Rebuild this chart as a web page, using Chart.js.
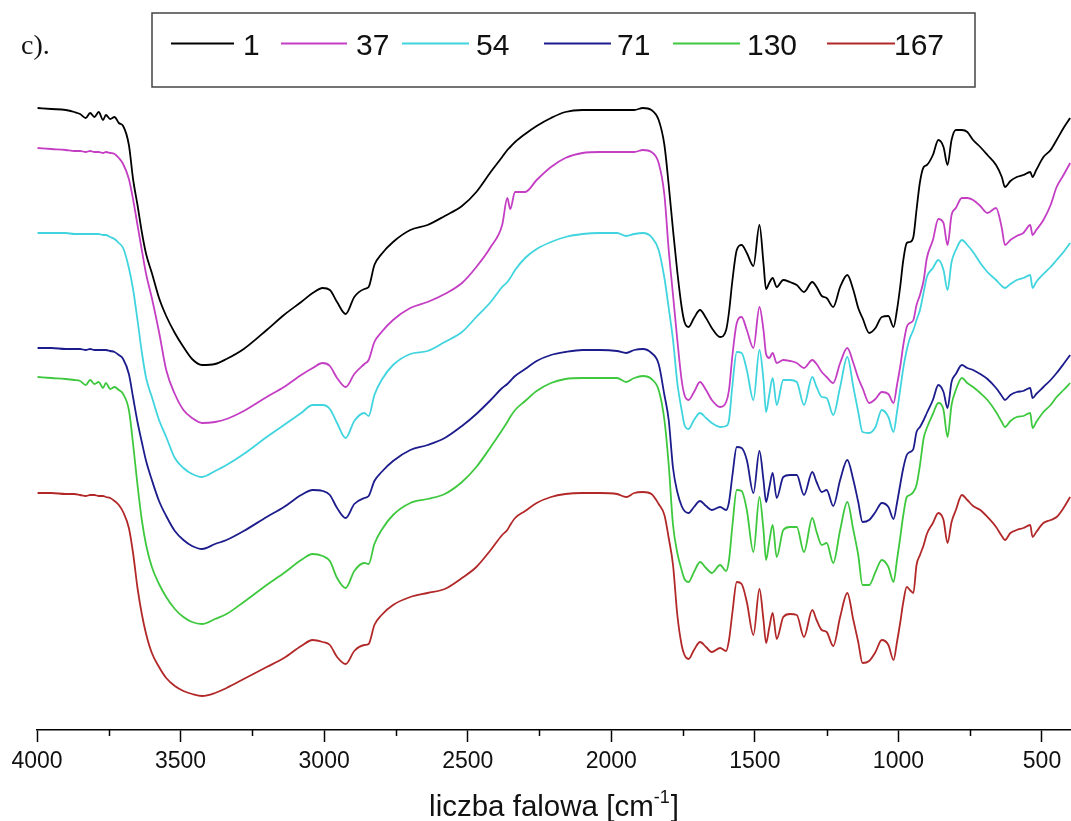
<!DOCTYPE html>
<html>
<head>
<meta charset="utf-8">
<title>Widma IR</title>
<script src="https://cdn.jsdelivr.net/npm/chart.js@4.4.1/dist/chart.umd.min.js"></script>
<style>
  html, body { margin: 0; padding: 0; background: #ffffff; }
  #wrap { width: 1071px; height: 821px; }
</style>
</head>
<body>
<div id="wrap"><canvas id="ir" width="1071" height="821"></canvas></div>
<script>
// Wavenumbers (cm-1) shared by every spectrum, from high to low
const wavenumbers = [
  3998, 3950, 3900, 3870, 3850, 3830, 3815, 3800, 3785, 3770,
  3760, 3745, 3730, 3715, 3700,
  3680, 3665, 3650,
  3635, 3620, 3600, 3575, 3550, 3520, 3490, 3460, 3425, 3380,
  3340, 3280, 3200, 3140, 3080, 3040, 3005, 2980, 2955, 2925,
  2895, 2860, 2845, 2825, 2800, 2760, 2700, 2640, 2580, 2520,
  2470, 2420, 2380, 2362, 2352, 2335, 2300, 2260, 2210, 2160,
  2100, 2040, 1980, 1948, 1920, 1890, 1860, 1835, 1815, 1800,
  1785, 1770, 1755, 1745, 1731, 1712, 1691, 1670, 1650, 1621,
  1600, 1590, 1578, 1563, 1546, 1528, 1505, 1484, 1470, 1461,
  1450, 1438, 1424, 1401, 1378, 1354, 1329, 1300, 1285, 1267,
  1250, 1227, 1203, 1178, 1157, 1140, 1125, 1102, 1080, 1058,
  1035, 1017, 1005, 994, 983, 971, 960, 948, 937, 925,
  912, 901, 880, 861, 843, 829, 815, 800, 779, 760,
  740, 715, 690, 660, 640, 629, 610, 588, 565, 541,
  533, 520, 495, 470, 449, 425, 402
];

// Offset transmittance (arbitrary units) for each sample
const spectrum1 = [
  622, 621, 620, 618, 616, 612, 617, 613, 618, 610,
  615, 611, 613, 607, 604,
  585, 550, 525,
  498, 476, 457, 432, 414, 397, 383, 371, 365, 366,
  371, 381, 400, 415, 428, 437, 442, 440, 428, 416,
  433, 441, 443, 465, 476, 488, 500, 505, 514, 524,
  538, 558, 573, 580, 583, 588, 596, 604, 612, 618,
  620, 620, 620, 620, 620, 622, 620, 610, 585, 545,
  500, 458, 423, 408, 403, 412, 420, 412, 402, 393,
  400, 418, 450, 480, 485, 477, 464, 505, 467, 441,
  447, 452, 443, 450, 448, 445, 438, 448, 443, 434,
  432, 423, 443, 455, 440, 422, 412, 397, 402, 413,
  414, 403, 420, 443, 470, 487, 488, 493, 520, 548,
  563, 565, 575, 590, 583, 565, 590, 600, 600, 598,
  590, 583, 575, 565, 553, 543, 549, 553, 555, 558,
  553, 560, 573, 580, 590, 602, 612
];
const spectrum37 = [
  582, 581, 580, 579, 579, 578, 579, 578, 578, 577,
  578, 577, 576, 572, 566,
  551, 530, 505,
  480, 456, 432, 398, 360, 336, 320, 312, 307, 308,
  311, 319, 333, 343, 355, 362, 367, 364, 352, 343,
  356, 366, 370, 388, 398, 410, 422, 428, 436, 447,
  463, 483, 505, 532, 521, 538, 538, 550, 563, 572,
  577, 578, 578, 578, 578, 580, 578, 567, 535, 480,
  435, 390, 350, 335, 330, 338, 348, 340, 330, 323,
  328, 340, 375, 407, 413, 400, 382, 423, 400, 376,
  372, 377, 367, 370, 369, 367, 362, 370, 366, 358,
  353, 347, 367, 382, 367, 352, 342, 327, 331, 338,
  336, 327, 345, 363, 385, 403, 407, 410, 425, 435,
  450, 472, 490, 511, 507, 485, 515, 522, 532, 532,
  530, 524, 517, 522, 502, 485, 490, 494, 497, 505,
  495, 500, 510, 525, 543, 555, 567
];
const spectrum54 = [
  497, 497, 497, 496, 496, 496, 496, 496, 496, 495,
  495, 493, 491, 487, 482,
  462, 440, 410,
  378, 352, 333, 310, 293, 272, 262, 256, 253, 259,
  265, 276, 293, 305, 317, 325, 325, 321, 307, 292,
  309, 317, 314, 335, 350, 365, 376, 379, 388, 398,
  413, 428, 443, 448, 452, 460, 472, 481, 488, 493,
  496, 497, 497, 494, 496, 497, 493, 480, 452, 422,
  390, 347, 320, 305, 301, 310, 317, 312, 307, 303,
  304, 310, 345, 378, 377, 360, 330, 380, 350, 318,
  335, 352, 325, 350, 350, 348, 325, 353, 343, 333,
  332, 315, 343, 373, 343, 318, 298, 297, 303, 320,
  313, 298, 318, 340, 362, 380, 392, 400, 410, 420,
  438, 453, 462, 470, 460, 440, 468, 480, 490, 485,
  478, 467, 458, 450, 444, 442, 446, 450, 452, 455,
  442, 448, 456, 463, 470, 478, 487
];
const spectrum71 = [
  382, 382, 381, 381, 381, 380, 381, 380, 380, 380,
  380, 379, 378, 375, 371,
  356, 332, 308,
  288, 269, 250, 229, 214, 199, 190, 184, 181, 186,
  190, 199, 213, 223, 235, 240, 239, 235, 222, 212,
  226, 232, 234, 249, 258, 269, 280, 285, 292, 304,
  316, 330, 342, 346, 349, 354, 361, 369, 375, 378,
  380, 380, 379, 377, 380, 381, 377, 366, 335, 310,
  262, 238, 224, 219, 217, 223, 229, 224, 220, 223,
  220, 228, 255, 283, 282, 270, 237, 279, 250, 228,
  242, 257, 232, 253, 255, 255, 235, 258, 248, 238,
  240, 224, 250, 270, 250, 228, 208, 210, 218, 227,
  223, 211, 227, 245, 262, 275, 278, 281, 298, 303,
  310, 317, 330, 345, 338, 322, 348, 356, 365, 362,
  360, 356, 351, 342, 334, 330, 335, 338, 339, 342,
  332, 336, 343, 350, 357, 366, 375
];
const spectrum130 = [
  353, 352, 351, 350, 349, 345, 350, 346, 348, 342,
  347, 341, 343, 340, 336,
  320, 285, 245,
  210, 185, 163, 146, 133, 121, 113, 108, 106, 111,
  116, 128, 145, 157, 170, 176, 174, 169, 152, 142,
  159, 167, 166, 186, 200, 215, 227, 231, 236, 248,
  263, 283, 300, 308, 313, 320, 329, 339, 347, 351,
  352, 352, 352, 348, 352, 354, 351, 340, 310, 265,
  205, 177, 160, 151, 148, 158, 168, 162, 157, 165,
  159, 170, 205, 240, 239, 220, 178, 233, 200, 170,
  188, 205, 173, 200, 203, 203, 178, 212, 198, 185,
  187, 167, 200, 228, 200, 175, 145, 145, 158, 170,
  163, 148, 170, 192, 215, 233, 235, 238, 245, 265,
  292, 302, 316, 327, 320, 293, 325, 340, 352, 347,
  343, 337, 330, 318, 308, 303, 309, 313, 314, 317,
  302, 308, 318, 325, 333, 340, 347
];
const spectrum167 = [
  237, 237, 236, 236, 235, 234, 235, 235, 234, 234,
  233, 232, 229, 225, 218,
  202, 176, 142,
  116, 96, 77, 63, 52, 44, 39, 36, 34, 37,
  42, 51, 63, 72, 84, 90, 88, 85, 73, 66,
  79, 85, 86, 105, 115, 125, 133, 137, 141, 152,
  163, 180, 195, 200, 205, 212, 219, 227, 233, 236,
  237, 237, 236, 233, 237, 238, 236, 226, 215, 192,
  165, 115, 85, 75, 71, 80, 88, 83, 78, 82,
  79, 90, 118, 148, 146, 128, 95, 141, 110, 87,
  102, 117, 91, 113, 116, 115, 93, 120, 110, 100,
  98, 84, 113, 137, 110, 88, 67, 69, 78, 90,
  85, 70, 88, 107, 128, 143, 140, 137, 165, 175,
  185, 196, 207, 217, 210, 187, 208, 220, 235, 230,
  224, 220, 213, 203, 194, 190, 197, 200, 202, 205,
  193, 198, 207, 210, 213, 222, 233
];

const seriesLabels = ['1', '37', '54', '71', '130', '167'];
const seriesValues = [spectrum1, spectrum37, spectrum54, spectrum71, spectrum130, spectrum167];
const seriesColors = ['#000000', '#c43ec4', '#40d4de', '#1c1c8c', '#3ec83e', '#b22828'];

// Axis ticks (cm-1)
const majorTicks = [500, 1000, 1500, 2000, 2500, 3000, 3500, 4000];
const minorTicks = [750, 1250, 1750, 2250, 2750, 3250, 3750];

const axisTitleMain = 'liczba falowa [cm';
const axisTitleSup = '-1';
const axisTitleEnd = ']';
const panelLabel = 'c).';

const SANS = '"Liberation Sans", Arial, Helvetica, sans-serif';
const SERIF = '"Liberation Serif", "Times New Roman", serif';

// Legend item geometry: sample line start/end and label x
const legendItems = [
  { x0: 171, x1: 234, tx: 243 },
  { x0: 281, x1: 347, tx: 356 },
  { x0: 402, x1: 469, tx: 476 },
  { x0: 544, x1: 611, tx: 617 },
  { x0: 673, x1: 740, tx: 747 },
  { x0: 827, x1: 895, tx: 894 }
];

const decorPlugin = {
  id: 'irDecor',
  afterDraw(chart) {
    const ctx = chart.ctx;
    const xs = chart.scales.x;
    const area = chart.chartArea;
    ctx.save();

    // minor ticks
    ctx.strokeStyle = '#000';
    ctx.lineWidth = 1.5;
    minorTicks.forEach(v => {
      const px = Math.round(xs.getPixelForValue(v)) + 0.5;
      ctx.beginPath();
      ctx.moveTo(px, area.bottom);
      ctx.lineTo(px, area.bottom + 6);
      ctx.stroke();
    });

    // axis title with superscript
    const mainFont = '29.5px ' + SANS;
    const supFont = '18px ' + SANS;
    ctx.fillStyle = '#111';
    ctx.textBaseline = 'alphabetic';
    ctx.textAlign = 'left';
    ctx.font = mainFont;
    const wMain = ctx.measureText(axisTitleMain).width;
    const wEnd = ctx.measureText(axisTitleEnd).width;
    ctx.font = supFont;
    const wSup = ctx.measureText(axisTitleSup).width;
    const total = wMain + wSup + 1 + wEnd;
    let tx = (area.left + area.right) / 2 - total / 2;
    const base = 816;
    ctx.font = mainFont;
    ctx.fillText(axisTitleMain, tx, base);
    tx += wMain;
    ctx.font = supFont;
    ctx.fillText(axisTitleSup, tx, base - 13);
    tx += wSup + 1;
    ctx.font = mainFont;
    ctx.fillText(axisTitleEnd, tx, base);

    // panel label
    ctx.font = '28px ' + SERIF;
    ctx.fillStyle = '#111';
    ctx.fillText(panelLabel, 21, 54);

    // legend frame
    ctx.strokeStyle = '#444';
    ctx.lineWidth = 1.5;
    ctx.strokeRect(152, 13, 823, 74);

    // legend entries
    ctx.font = '30px ' + SANS;
    chart.data.datasets.forEach((ds, i) => {
      const it = legendItems[i];
      ctx.strokeStyle = ds.borderColor;
      ctx.lineWidth = 2;
      ctx.beginPath();
      ctx.moveTo(it.x0, 43.5);
      ctx.lineTo(it.x1, 43.5);
      ctx.stroke();
      ctx.fillStyle = '#111';
      ctx.fillText(ds.label, it.tx, 55);
    });

    ctx.restore();
  }
};

const datasets = seriesLabels.map((label, i) => ({
  label: label,
  data: wavenumbers.map((w, j) => ({ x: w, y: seriesValues[i][j] })),
  borderColor: seriesColors[i],
  borderWidth: 1.8,
  pointRadius: 0,
  fill: false,
  cubicInterpolationMode: 'monotone'
}));

new Chart(document.getElementById('ir'), {
  type: 'line',
  data: { datasets: datasets },
  plugins: [decorPlugin],
  options: {
    responsive: false,
    animation: false,
    devicePixelRatio: 1,
    events: [],
    layout: { padding: { top: 90, left: 37, right: 0, bottom: 0 } },
    plugins: {
      legend: { display: false },
      tooltip: { enabled: false },
      title: { display: false }
    },
    scales: {
      x: {
        type: 'linear',
        position: 'bottom',
        reverse: true,
        min: 399,
        max: 4000,
        afterBuildTicks: s => { s.ticks = majorTicks.map(v => ({ value: v })); },
        afterFit: s => { s.height = 91; },
        grid: {
          display: true,
          drawOnChartArea: false,
          drawTicks: true,
          tickLength: 12,
          tickWidth: 1.5,
          tickColor: '#000'
        },
        border: { display: true, color: '#000', width: 1.5 },
        ticks: {
          color: '#111',
          font: { family: SANS, size: 23 },
          padding: 6,
          maxRotation: 0,
          autoSkip: false,
          includeBounds: false,
          callback: v => String(v)
        }
      },
      y: { display: false, min: 0, max: 640 }
    }
  }
});
</script>
</body>
</html>
